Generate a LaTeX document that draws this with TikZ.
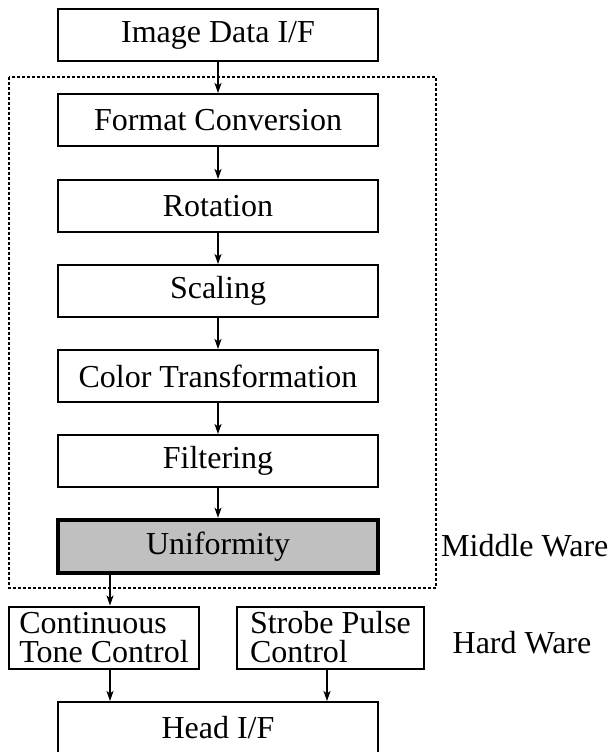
\documentclass[tikz,border=0pt]{standalone}
\usepackage{fontspec}
\setmainfont{Liberation Serif}
\usetikzlibrary{arrows.meta}
\begin{document}
\begin{tikzpicture}[x=1pt,y=-1pt,
  boxs/.style={draw, line width=2pt, minimum width=320pt, minimum height=52pt, inner sep=0pt, font=\fontsize{32}{29}\selectfont},
  smallbox/.style={draw, line width=2pt, minimum height=62pt, inner sep=0pt, align=left, font=\fontsize{32}{29}\selectfont},
  arr/.style={line width=1.5pt, -{Stealth[length=10pt,width=7pt,inset=2.5pt]}},
  lbl/.style={inner sep=0pt, font=\fontsize{32}{29}\selectfont},
  frame/.style={line width=1.8pt, dash pattern=on 3pt off 2pt}]
\useasboundingbox (0,0) rectangle (610,752);
\draw[frame] (9,77) rectangle (436,588);
\node[boxs] (img) at (218,35.5) {Image Data I/F};
\node[boxs] (fmt) at (218,120) {Format Conversion};
\node[boxs] (rot) at (218,206) {Rotation};
\node[boxs] (scl) at (218,291) {Scaling};
\node[boxs] (col) at (218,376) {Color Transformation};
\node[boxs] (fil) at (218,461) {Filtering};
\node[boxs, line width=4.5pt, fill={rgb,255:red,192;green,192;blue,192}, minimum height=53pt] (uni) at (218,546.5) {Uniformity};
\node[smallbox, minimum width=190pt] (ct) at (104,637.5) {Continuous\\Tone Control};
\node[smallbox, minimum width=187pt] (sp) at (330.5,637.5) {Strobe Pulse\\Control};
\node[boxs, minimum height=52pt] (head) at (218,728) {Head I/F};
\node[lbl, anchor=west] (mw) at (441,546) {Middle Ware};
\node[lbl] (hw) at (522,643) {Hard Ware};
\coordinate (c1) at (110,0);
\coordinate (c2) at (327,0);
\draw[arr] (img) -- (fmt);
\draw[arr] (fmt) -- (rot);
\draw[arr] (rot) -- (scl);
\draw[arr] (scl) -- (col);
\draw[arr] (col) -- (fil);
\draw[arr] (fil) -- (uni);
\draw[arr] (uni.south -| c1) -- (ct.north -| c1);
\draw[arr] (ct.south -| c1) -- (head.north -| c1);
\draw[arr] (sp.south -| c2) -- (head.north -| c2);
\end{tikzpicture}
\end{document}
